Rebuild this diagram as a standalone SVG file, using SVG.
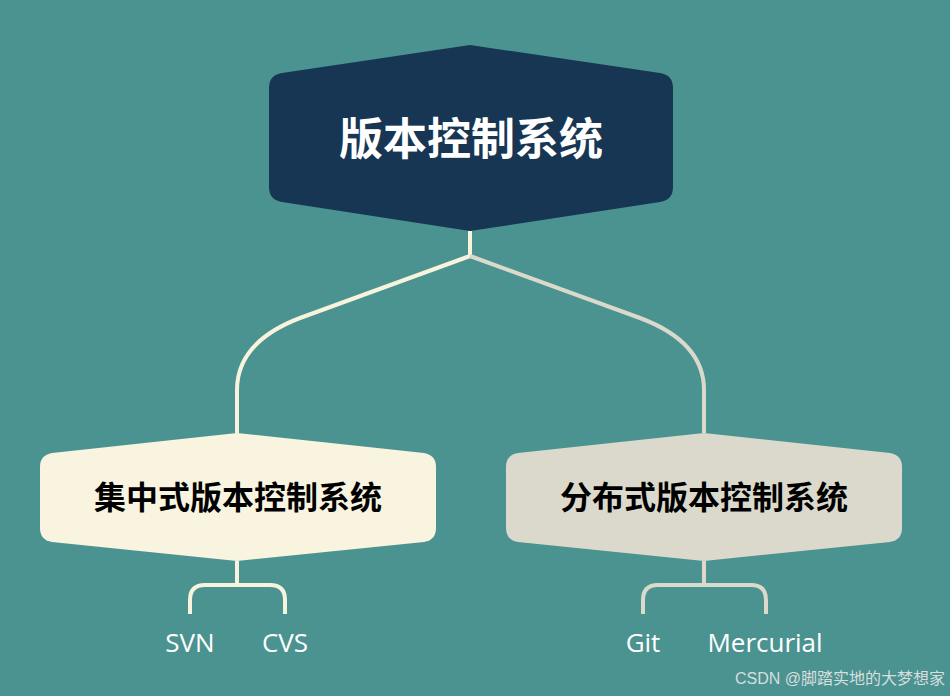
<svg xmlns="http://www.w3.org/2000/svg" width="950" height="696" viewBox="0 0 950 696">
<style>
.cjk{font-family:"Noto Sans CJK SC","Noto Sans",sans-serif;font-weight:bold;text-anchor:middle}
.leaf{font-family:"Open Sans","Noto Sans",sans-serif;font-size:26px;fill:#ffffff;text-anchor:middle}
.c{fill:none;stroke-width:4;stroke-linejoin:round}
</style>
<rect width="950" height="696" fill="#4a9390"/>
<g id="connectors">
<path class="c" stroke="#f7f3dd" d="M470,231 L470,256 L300,318 Q237,342 237,390 L237,433"/>
<path class="c" stroke="#dbd9cc" d="M470,256 L640,318 Q704,342 704,390 L704,433"/>
<path class="c" stroke="#f7f3dd" d="M237,561 L237,585 M190,614 L190,600 Q190,585 205,585 L270,585 Q285,585 285,600 L285,614"/>
<path class="c" stroke="#dbd9cc" d="M704,561 L704,585 M643,614 L643,600 Q643,585 658,585 L751,585 Q766,585 766,600 L766,614"/>
</g>
<g id="root">
<path d="M470,45 L660,73 Q673,75 673,88 L673,187 Q673,200 660,202 L470,231 L282,202 Q269,200 269,187 L269,88 Q269,75 282,73 Z" fill="#173653"/>
<text class="cjk" x="471" y="155" font-size="44" fill="#ffffff">版本控制系统</text>
</g>
<g id="central">
<path d="M237,433 L424,453 Q436,455 436,467 L436,528 Q436,540 424,542 L237,561 L52,542 Q40,540 40,528 L40,467 Q40,455 52,453 Z" fill="#f8f4df"/>
<text class="cjk" x="238" y="509" font-size="32" fill="#000000">集中式版本控制系统</text>
</g>
<g id="distributed">
<path d="M704,433 L890,453 Q902,455 902,467 L902,528 Q902,540 890,542 L704,561 L518,542 Q506,540 506,528 L506,467 Q506,455 518,453 Z" fill="#dbd9cc"/>
<text class="cjk" x="704" y="509" font-size="32" fill="#000000">分布式版本控制系统</text>
</g>
<g id="svn"><text class="leaf" x="190" y="652">SVN</text></g>
<g id="cvs"><text class="leaf" x="285" y="652">CVS</text></g>
<g id="git"><text class="leaf" x="643" y="652">Git</text></g>
<g id="mercurial"><text class="leaf" x="765" y="652">Mercurial</text></g>
<text x="945" y="684" font-family="Liberation Sans,'Noto Sans CJK SC',sans-serif" font-size="16" fill="#d8dede" text-anchor="end">CSDN @脚踏实地的大梦想家</text>
</svg>
